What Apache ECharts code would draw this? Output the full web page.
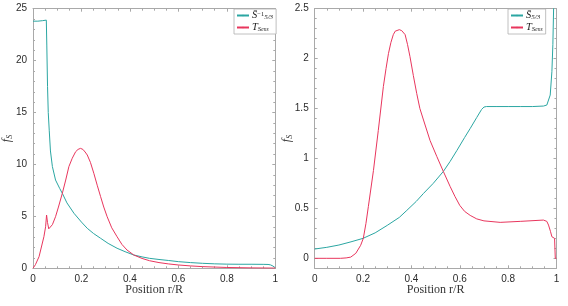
<!DOCTYPE html>
<html><head><meta charset="utf-8">
<script src="https://cdn.jsdelivr.net/npm/echarts@6/dist/echarts.min.js"></script>
<style>html,body{margin:0;padding:0;background:#fff}#c{width:568px;height:306px}</style>
</head><body><div id="c"></div>
<script>
// ---- Left panel data ----
const leftX_S = [0, 0.02, 0.04, 0.055, 0.057, 0.06, 0.063, 0.067, 0.072, 0.08, 0.093, 0.11, 0.121, 0.14, 0.169, 0.2, 0.224, 0.25, 0.279, 0.31, 0.347, 0.38, 0.416, 0.45, 0.481, 0.52, 0.56, 0.6, 0.65, 0.7, 0.75, 0.8, 0.85, 0.9, 0.95, 0.97, 0.98, 0.99, 1.0];
const leftY_S = [23.8, 23.8, 23.85, 23.9, 21.5, 17.5, 15.0, 13.3, 11.3, 9.8, 8.5, 7.7, 7.22, 6.3, 5.3, 4.45, 3.85, 3.35, 2.89, 2.4, 1.93, 1.6, 1.28, 1.1, 0.96, 0.85, 0.75, 0.64, 0.55, 0.48, 0.43, 0.40, 0.39, 0.39, 0.38, 0.37, 0.33, 0.22, 0.05];
const leftX_T = [0, 0.01, 0.025, 0.045, 0.052, 0.056, 0.06, 0.065, 0.07, 0.08, 0.093, 0.105, 0.121, 0.135, 0.148, 0.162, 0.176, 0.186, 0.196, 0.206, 0.215, 0.224, 0.237, 0.251, 0.265, 0.279, 0.292, 0.306, 0.325, 0.347, 0.367, 0.388, 0.416, 0.45, 0.481, 0.52, 0.56, 0.6, 0.65, 0.7, 0.8, 0.9, 1.0];
const leftY_T = [0, 0.35, 1.12, 3.04, 4.0, 5.13, 4.4, 3.8, 3.75, 4.2, 4.97, 5.9, 7.22, 8.5, 9.79, 10.6, 11.23, 11.45, 11.55, 11.45, 11.2, 10.91, 10.2, 9.15, 8.0, 6.9, 5.9, 4.97, 3.9, 3.04, 2.3, 1.76, 1.28, 0.95, 0.73, 0.55, 0.42, 0.32, 0.23, 0.16, 0.08, 0.04, 0.02];

// ---- Right panel data ----
const rightX_S = [0, 0.05, 0.1, 0.15, 0.2, 0.25, 0.3, 0.35, 0.381, 0.42, 0.45, 0.49, 0.532, 0.56, 0.588, 0.62, 0.643, 0.67, 0.69, 0.7, 0.71, 0.75, 0.8, 0.85, 0.9, 0.946, 0.96, 0.967, 0.974, 0.981, 0.985, 0.988, 0.992, 1.0];
const rightY_S = [0.093, 0.11, 0.133, 0.165, 0.2, 0.255, 0.33, 0.41, 0.48, 0.57, 0.65, 0.75, 0.87, 0.97, 1.08, 1.21, 1.30, 1.41, 1.49, 1.515, 1.52, 1.52, 1.52, 1.52, 1.52, 1.525, 1.535, 1.55, 1.635, 1.87, 2.14, 2.5, 2.9, 3.5];
const rightX_T = [0, 0.05, 0.107, 0.13, 0.149, 0.17, 0.19, 0.201, 0.212, 0.222, 0.243, 0.263, 0.284, 0.295, 0.305, 0.315, 0.325, 0.333, 0.34, 0.35, 0.36, 0.367, 0.374, 0.384, 0.394, 0.408, 0.422, 0.435, 0.45, 0.477, 0.505, 0.532, 0.56, 0.58, 0.6, 0.62, 0.643, 0.67, 0.7, 0.767, 0.85, 0.946, 0.96, 0.967, 0.975, 0.981, 0.988, 0.992, 0.995, 1.0];
const rightY_T = [0, 0, 0, 0.004, 0.012, 0.05, 0.13, 0.2, 0.35, 0.52, 0.88, 1.28, 1.72, 1.9, 2.05, 2.16, 2.24, 2.275, 2.285, 2.29, 2.28, 2.265, 2.24, 2.14, 2.02, 1.83, 1.65, 1.5, 1.385, 1.18, 1.02, 0.87, 0.72, 0.62, 0.53, 0.47, 0.43, 0.395, 0.375, 0.36, 0.37, 0.383, 0.37, 0.333, 0.27, 0.216, 0.2, 0.2, 0.0, 0.0];

// ---- Tick values ----
const rightYMajorTicks = [0, 0.5, 1, 1.5, 2, 2.5];
const rightYMinorTicks = [0.1, 0.2, 0.3, 0.4, 0.6, 0.7, 0.8, 0.9, 1.1, 1.2, 1.3, 1.4, 1.6, 1.7, 1.8, 1.9, 2.1, 2.2, 2.3, 2.4];

const zip = (xs, ys) => xs.map((x, i) => [x, ys[i]]);
const TEAL = '#2ba6a2';
const RED = '#e8365d';
const AX = '#a9a9a9';
const LBL = { fontFamily: 'Liberation Sans', fontSize: 10, color: '#2b2b2b' };

function xAx(grid, pos, withName) {
  return {
    type: 'value', gridIndex: grid, position: pos, min: 0, max: 1, interval: 0.2,
    axisLine: { show: true, onZero: false, lineStyle: { color: AX, width: 1 } },
    axisTick: { show: true, inside: true, length: 3, lineStyle: { color: AX } },
    minorTick: { show: true, splitNumber: 4, length: 2, lineStyle: { color: AX } },
    axisLabel: Object.assign({ show: withName, margin: 6 }, LBL),
    splitLine: { show: false },
    name: withName ? 'Position r/R' : '',
    nameLocation: 'middle', nameGap: 15.5, nameMoveOverlap: false,
    nameTextStyle: { fontFamily: 'Liberation Serif', fontSize: 12, color: '#333' }
  };
}
const fName = {
  name: '{f|f}{s|S}', nameLocation: 'middle', nameRotate: 90, nameGap: 19, nameMoveOverlap: false,
  nameTextStyle: {
    rich: {
      f: { fontFamily: 'Liberation Serif', fontStyle: 'italic', fontSize: 12, color: '#333' },
      s: { fontFamily: 'Liberation Serif', fontStyle: 'italic', fontSize: 8, color: '#333', verticalAlign: 'bottom', padding: [6, 0, 0, 0] }
    }
  }
};
function yLeftAx(grid, pos) {
  const o = {
    type: 'value', gridIndex: grid, position: pos, min: 0, max: 25, interval: 5,
    axisLine: { show: true, onZero: false, lineStyle: { color: AX, width: 1 } },
    axisTick: { show: true, inside: true, length: 3, lineStyle: { color: AX } },
    minorTick: { show: true, splitNumber: 5, length: 2, lineStyle: { color: AX } },
    axisLabel: Object.assign({ show: pos === 'left', margin: 6 }, LBL),
    splitLine: { show: false }
  };
  if (pos === 'left') Object.assign(o, fName);
  return o;
}
function yRightAx(grid, pos, kind) {
  const o = {
    type: 'value', gridIndex: grid, position: pos, min: -0.1, max: 2.5,
    axisLine: { show: kind === 'major', onZero: false, lineStyle: { color: AX, width: 1 } },
    axisTick: { show: true, inside: true, length: kind === 'major' ? 3 : 2, lineStyle: { color: AX },
      customValues: kind === 'major' ? rightYMajorTicks : rightYMinorTicks },
    axisLabel: Object.assign({ show: kind === 'major' && pos === 'left', margin: 6, customValues: rightYMajorTicks }, LBL),
    splitLine: { show: false }
  };
  if (pos === 'left' && kind === 'major') Object.assign(o, fName, { nameGap: 21 });
  return o;
}

const legendNames = {
  'S_inv_l': '{m|S\u0304}{sup|\u22121}{sub|5/3}',
  'T_l': '{m|T}{sub|S}{ss|ens}',
  'S_r': '{m|S\u0304}{sub|5/3}',
  'T_r': '{m|T}{sub|S}{ss|ens}'
};
const legendRich = {
  m: { fontFamily: 'Liberation Serif', fontStyle: 'italic', fontSize: 10.5, color: '#222', lineHeight: 10 },
  sup: { fontFamily: 'Liberation Serif', fontSize: 6.5, color: '#222', verticalAlign: 'top', lineHeight: 10 },
  sub: { fontFamily: 'Liberation Serif', fontStyle: 'italic', fontSize: 7, color: '#222', verticalAlign: 'bottom', lineHeight: 10 },
  ss: { fontFamily: 'Liberation Serif', fontStyle: 'italic', fontSize: 5.5, color: '#222', verticalAlign: 'bottom', lineHeight: 9 }
};
function legend(left, data) {
  return {
    left: left, top: 9, orient: 'vertical', data: data,
    itemWidth: 12, itemHeight: 2, itemGap: 1,
    padding: [1, 3, 1, 2],
    backgroundColor: '#fff', borderColor: '#b0b0b0', borderWidth: 0.8, borderRadius: 0,
    formatter: n => legendNames[n],
    textStyle: { rich: legendRich, padding: [0, 0, 0, -2] },
    selectedMode: false
  };
}
function line(name, xi, yi, data, color) {
  return {
    name: name, type: 'line', xAxisIndex: xi, yAxisIndex: yi, data: data,
    symbol: 'none', showSymbol: false, smooth: false,
    lineStyle: { color: color, width: 1 }, itemStyle: { color: color },
    clip: true, animation: false
  };
}

const chart = echarts.init(document.getElementById('c'), null, { renderer: 'canvas' });
chart.setOption({
  animation: false,
  backgroundColor: '#fff',
  grid: [
    { left: 32.3, top: 8.7, width: 243, height: 259.6 },
    { left: 314.7, top: 8.7, width: 241.8, height: 259.6 }
  ],
  xAxis: [xAx(0, 'bottom', true), xAx(0, 'top', false), xAx(1, 'bottom', true), xAx(1, 'top', false)],
  yAxis: [
    yLeftAx(0, 'left'), yLeftAx(0, 'right'),
    yRightAx(1, 'left', 'major'), yRightAx(1, 'right', 'major'),
    yRightAx(1, 'left', 'minor'), yRightAx(1, 'right', 'minor')
  ],
  legend: [legend(234, ['S_inv_l', 'T_l']), legend(508, ['S_r', 'T_r'])],
  series: [
    line('S_inv_l', 0, 0, zip(leftX_S, leftY_S), TEAL),
    line('T_l', 0, 0, zip(leftX_T, leftY_T), RED),
    line('S_r', 2, 2, zip(rightX_S, rightY_S), TEAL),
    line('T_r', 2, 2, zip(rightX_T, rightY_T), RED)
  ]
});
</script></body></html>
